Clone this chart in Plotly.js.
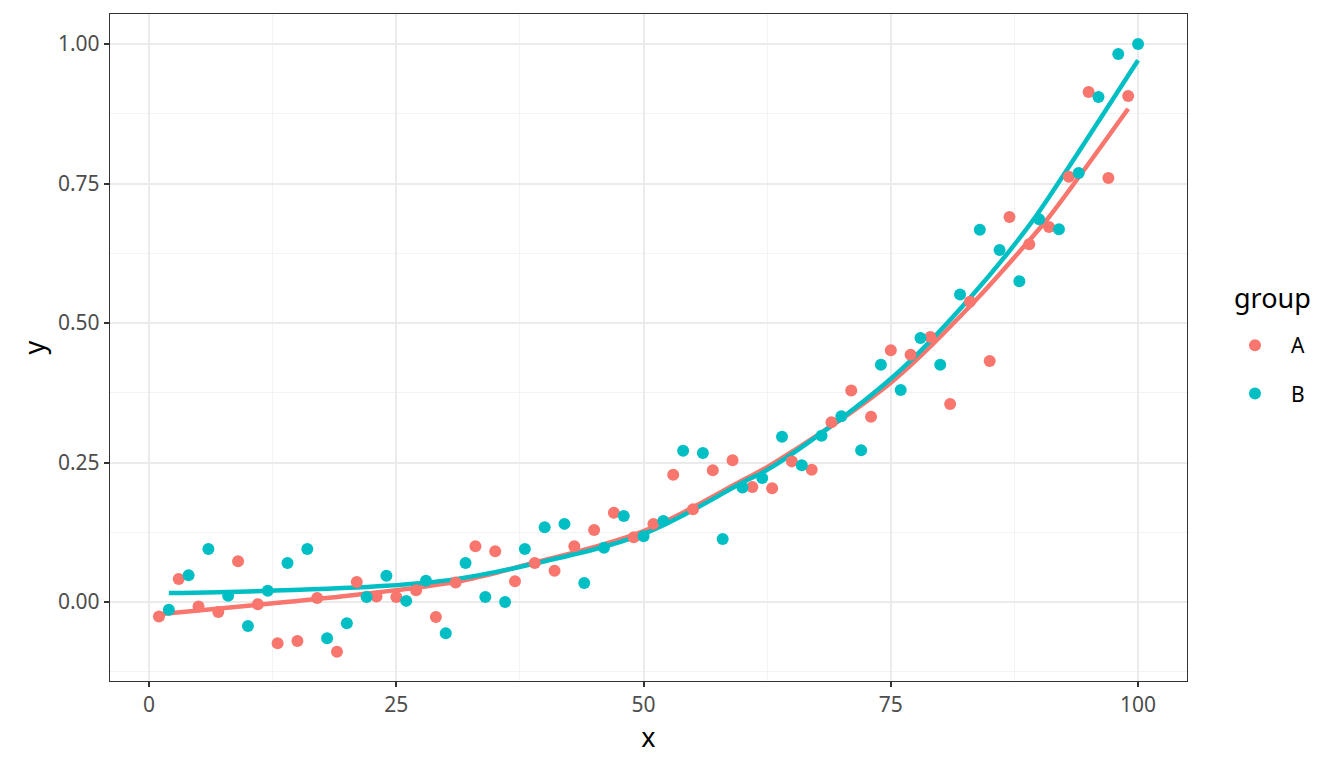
<!DOCTYPE html>
<html>
<head>
<meta charset="utf-8">
<script src="https://cdn.plot.ly/plotly-3.0.1.min.js"></script>
<style>
  html, body { margin: 0; padding: 0; background: #fff; }
  #plot { width: 1344px; height: 768px; }
</style>
</head>
<body>
<div id="plot"></div>
<script>
// Group A: odd x values
var xA = [1, 3, 5, 7, 9, 11, 13, 15, 17, 19, 21, 23, 25, 27, 29, 31, 33, 35, 37, 39,
          41, 43, 45, 47, 49, 51, 53, 55, 57, 59, 61, 63, 65, 67, 69, 71, 73, 75, 77, 79,
          81, 83, 85, 87, 89, 91, 93, 95, 97, 99];
var yA = [-0.026, 0.041, -0.008, -0.018, 0.073, -0.004, -0.074, -0.070, 0.007, -0.089,
          0.036, 0.010, 0.009, 0.021, -0.027, 0.035, 0.100, 0.091, 0.037, 0.070,
          0.056, 0.100, 0.129, 0.160, 0.116, 0.140, 0.228, 0.166, 0.236, 0.254,
          0.206, 0.204, 0.252, 0.237, 0.322, 0.379, 0.332, 0.451, 0.443, 0.475,
          0.355, 0.538, 0.432, 0.690, 0.641, 0.672, 0.762, 0.914, 0.760, 0.907];

// Group B: even x values
var xB = [2, 4, 6, 8, 10, 12, 14, 16, 18, 20, 22, 24, 26, 28, 30, 32, 34, 36, 38, 40,
          42, 44, 46, 48, 50, 52, 54, 56, 58, 60, 62, 64, 66, 68, 70, 72, 74, 76, 78, 80,
          82, 84, 86, 88, 90, 92, 94, 96, 98, 100];
var yB = [-0.014, 0.048, 0.095, 0.011, -0.043, 0.020, 0.070, 0.095, -0.065, -0.038,
          0.009, 0.047, 0.002, 0.038, -0.056, 0.070, 0.009, 0.000, 0.095, 0.134,
          0.140, 0.034, 0.097, 0.154, 0.118, 0.145, 0.271, 0.267, 0.113, 0.205,
          0.222, 0.296, 0.245, 0.298, 0.333, 0.272, 0.425, 0.380, 0.473, 0.425,
          0.551, 0.667, 0.631, 0.575, 0.686, 0.668, 0.769, 0.905, 0.982, 1.000];

// Smoothed fits
var fitAx = [1, 11, 21, 31, 38, 50, 60, 63, 75, 83, 89, 91, 99];
var fitAy = [-0.022, -0.005, 0.013, 0.036, 0.066, 0.127, 0.218, 0.247, 0.393, 0.530, 0.648, 0.690, 0.884];
var fitBx = [2, 12, 24, 31, 38, 50, 60, 63, 75, 83, 89, 91, 100];
var fitBy = [0.016, 0.020, 0.029, 0.041, 0.065, 0.122, 0.214, 0.242, 0.400, 0.545, 0.675, 0.726, 0.971];

var colA = '#F8766D';
var colB = '#00BFC4';

var ptsA = {
  x: xA, y: yA, mode: 'markers', type: 'scatter', name: 'A',
  legendgroup: 'A',
  marker: { color: colA, size: 12 }
};
var ptsB = {
  x: xB, y: yB, mode: 'markers', type: 'scatter', name: 'B',
  legendgroup: 'B',
  marker: { color: colB, size: 12 }
};
var lineA = {
  x: fitAx, y: fitAy, mode: 'lines', type: 'scatter', showlegend: false,
  line: { color: colA, width: 4.5, shape: 'spline', smoothing: 1 }
};
var lineB = {
  x: fitBx, y: fitBy, mode: 'lines', type: 'scatter', showlegend: false,
  line: { color: colB, width: 4.5, shape: 'spline', smoothing: 1 }
};

var axisBase = {
  showline: true, mirror: true, linecolor: '#333333', linewidth: 1.3,
  ticks: 'outside', ticklen: 5, tickwidth: 1.8, tickcolor: '#333333',
  gridcolor: '#EBEBEB', gridwidth: 1.8, zeroline: false,
  tickfont: { family: 'Noto Sans', size: 21, color: '#4D4D4D' }
};

var layout = {
  width: 1344, height: 768,
  margin: { l: 110, r: 157, t: 14, b: 87 },
  paper_bgcolor: '#fff', plot_bgcolor: '#fff',
  font: { family: 'Noto Sans' },
  xaxis: Object.assign({}, axisBase, {
    range: [-3.95, 104.95], tick0: 0, dtick: 25,
    minor: { dtick: 12.5, tick0: 0, showgrid: true, gridcolor: '#F3F3F3', gridwidth: 0.9, ticks: '' },
    title: { text: 'x', font: { family: 'Noto Sans', size: 27, color: '#000' }, standoff: 4 }
  }),
  yaxis: Object.assign({}, axisBase, {
    range: [-0.1416, 1.0538], tick0: 0, dtick: 0.25, tickformat: '.2f',
    minor: { dtick: 0.125, tick0: 0, showgrid: true, gridcolor: '#F3F3F3', gridwidth: 0.9, ticks: '' },
    title: { text: 'y', font: { family: 'Noto Sans', size: 27, color: '#000' }, standoff: 5 }
  }),
  legend: {
    x: 1.0297, xanchor: 'left', y: 0.467, yanchor: 'middle',
    font: { family: 'Noto Sans', size: 21, color: '#000' },
    tracegroupgap: 18, itemwidth: 62
  },
  annotations: [{
    text: 'group', xref: 'paper', yref: 'paper',
    x: 1.0418, xanchor: 'left', y: 0.5757, yanchor: 'middle',
    showarrow: false, font: { family: 'Noto Sans', size: 27, color: '#000' }
  }]
};

Plotly.newPlot('plot', [lineA, lineB, ptsA, ptsB], layout, { displayModeBar: false });
</script>
</body>
</html>
